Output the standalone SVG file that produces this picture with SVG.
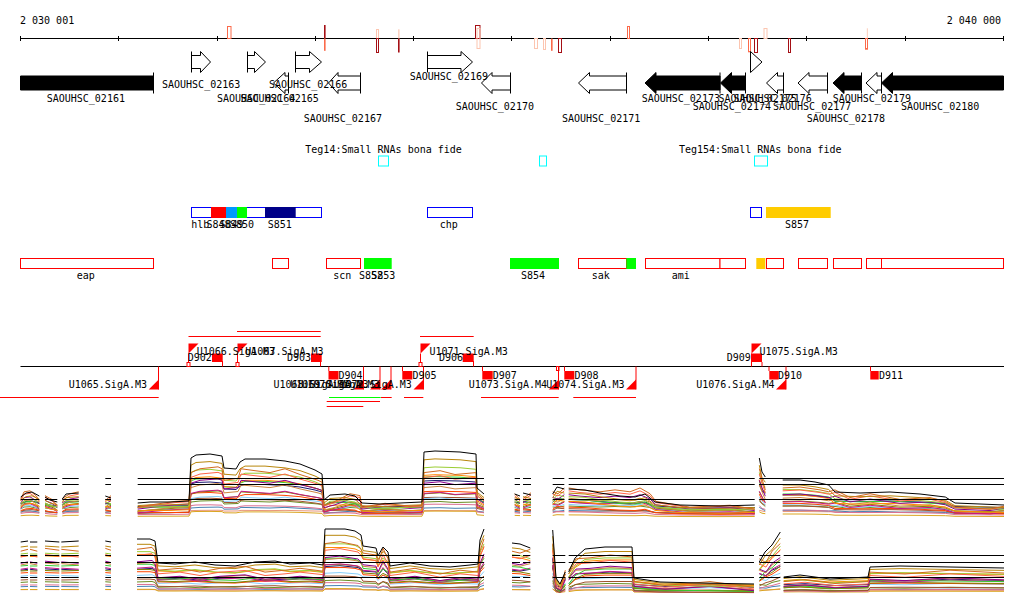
<svg xmlns="http://www.w3.org/2000/svg" width="1024" height="611" viewBox="0 0 1024 611">
<style>
text{font-family:"DejaVu Sans Mono","Liberation Mono",monospace;font-size:10px;fill:#000}
.ax{stroke:#000;stroke-width:1;fill:none}
.go{fill:#fff;stroke:#000;stroke-width:1}
.gf{fill:#000;stroke:#000;stroke-width:1}
.ro{fill:#fff;stroke:#f00;stroke-width:1}
.bo{fill:#fff;stroke:#00f;stroke-width:1}
.cy{fill:none;stroke:#0ff;stroke-width:1}
.rl{stroke:#f00;stroke-width:1;fill:none}
.gl{stroke:#0f0;stroke-width:1;fill:none}
.rf{fill:#f00;stroke:none}
.dk{fill:none;stroke:#a50f15;stroke-width:1}
.tm{fill:none;stroke:#fb6a4a;stroke-width:1}
.lp{fill:none;stroke:#fcc5b0;stroke-width:1}
.pr{fill:none;stroke-width:1;vector-effect:non-scaling-stroke}
.ref{stroke:#000;stroke-width:1;fill:none}
</style>
<defs>
<path id="pt" class="pr" d="M20.7,497 L26,493 L32,492 L39.3,496 M45,497 L50,500 L57.3,502 M62.3,499 L66,494 L78.7,493 M105.3,496 L111,498 M137.7,503 L150,502 L170,502 L189,501 L191,458 L196,455 L210,454 L222,456 L224,468 L236,469 L240,462 L245,459 L265,459 L285,461 L300,464 L315,470 L322,474 L324,500 L330,495 L345,494 L355,496 L362,503 L380,504 L400,503 L422,502 L424,452 L435,451 L460,452 L476,454 L477,488 L484,494 M514.7,494 L520,496 M523,493 L531,495 M552.7,494 L557,487 L564.3,489 M568.7,489 L585,490 L600,493 L620,496 L635,497 L645,494 L655,502 L680,505 L720,506 L754.7,505 M759.3,458 L762,472 L765.3,477 M782.7,480 L800,480 L815,482 L828.7,485 L835,492 L860,493 L890,492 L920,494 L945.3,497 L955,503 L980,504 L1004,505"/>
<path id="pt2" class="pr" d="M20.7,498 L24,490 L30,489 L36,494 L39.3,499 M45,494 L52,498 L57.3,504 M62.3,497 L70,492 L78.7,490 M105.3,499 L111,494 M137.7,506 L155,503 L175,500 L189,499 L191,470 L200,466 L218,464 L222,466 L224,478 L238,476 L241,466 L255,468 L270,470 L285,466 L300,472 L318,478 L322,480 L324,504 L335,500 L350,492 L360,494 L362,506 L385,502 L410,505 L422,504 L424,470 L440,468 L455,472 L476,470 L477,492 L484,498 M514.7,492 L520,498 M523,497 L531,491 M552.7,490 L558,492 L564.3,486 M568.7,486 L580,488 L600,490 L615,488 L630,490 L640,486 L650,492 L656,500 L690,506 L730,504 L754.7,508 M759.3,466 L763,480 L765.3,488 M782.7,486 L800,485 L820,488 L828.7,490 L835,488 L850,496 L870,492 L900,498 L930,496 L945.3,500 L955,506 L990,508 L1004,505"/>
<path id="pb" class="pr" d="M20.7,542 L28,541 M30,542 L37.3,542 M45,541 L59.3,542 M61.3,542 L78.7,541 M105.3,541 L111,542 M137,539 L150,539 L155,541 L158,563 L175,564 L195,562 L215,565 L235,566 L255,562 L275,561 L290,564 L310,563 L323,565 L325,529 L345,529 L355,531 L361,535 L363,546 L376,548 L378,556 L383,547 L388,552 L390,566 L410,563 L430,566 L450,567 L470,565 L478,564 L480,540 L484,529 M512,543 L520,544 L530.3,548 M552.7,530 L556,578 L560,584 L565.3,572 M568.7,572 L575,558 L585,549 L605,547 L632,547 L634,578 L660,582 L700,583 L754,584 M759.3,562 L765,552 L772,545 L780.3,532 M783.7,577 L800,575 L830,579 L868,577 L870,567 L900,566 L950,567 L1004,568"/>
<path id="pb2" class="pr" d="M20.7,548 L28,546 M30,546 L37.3,548 M45,545 L59.3,547 M61.3,546 L78.7,548 M105.3,545 L111,547 M137,546 L152,544 L155,548 L158,568 L180,566 L200,570 L220,566 L245,564 L265,570 L285,568 L300,566 L323,569 L325,540 L340,538 L358,542 L361,546 L363,550 L376,552 L378,560 L383,545 L388,556 L390,570 L415,566 L440,572 L460,568 L478,570 L480,548 L484,535 M512,548 L520,550 L530.3,546 M552.7,540 L556,582 L561,586 L565.3,568 M568.7,568 L576,556 L590,555 L610,552 L632,554 L634,580 L665,584 L710,580 L754,586 M759.3,556 L766,560 L772,548 L780.3,540 M783.7,580 L805,578 L835,582 L868,580 L870,570 L905,572 L950,568 L1004,571"/>
</defs>
<rect width="1024" height="611" fill="#fff"/>

<g id="scale">
<path class="ax" d="M20.5,38.5 H1003.5 M20.5,36 V41 M118.5,36 V41 M217.5,36 V41 M315.5,36 V41 M413.5,36 V41 M511.5,36 V41 M610.5,36 V41 M708.5,36 V41 M806.5,36 V41 M905.5,36 V41 M1003.5,36 V41"/>
<text x="20" y="24">2 030 001</text>
<text x="1001" y="24" text-anchor="end">2 040 000</text>
</g>

<g id="tss-marks">
<rect class="tm" x="227.5" y="26.5" width="3.5" height="12"/>
<rect x="324" y="25" width="1.6" height="13.5" fill="#a50f15"/>
<rect x="324" y="38.5" width="1.6" height="12.3" fill="#fb6a4a"/>
<rect class="lp" x="376.5" y="29.5" width="2" height="9"/>
<rect class="dk" x="376.5" y="38.5" width="2" height="14"/>
<rect x="398" y="29.3" width="1.6" height="9.2" fill="#fcd5c5"/>
<rect x="398" y="38.5" width="1.6" height="14" fill="#a50f15"/>
<rect class="dk" x="475.5" y="25.5" width="4.5" height="13"/>
<rect class="lp" x="477" y="28.5" width="3" height="20"/>
<rect class="lp" x="534.5" y="38.5" width="3" height="10"/>
<rect class="lp" x="543.5" y="38.5" width="2" height="11"/>
<rect x="551" y="38.5" width="1.6" height="12.3" fill="#fb6a4a"/>
<rect class="dk" x="558.5" y="38.5" width="3" height="14"/>
<rect class="tm" x="627.5" y="26.5" width="2" height="12"/>
<rect class="lp" x="739.5" y="38.5" width="2" height="10"/>
<rect class="tm" x="748.5" y="38.5" width="2" height="13.3"/>
<rect class="dk" x="754.5" y="38.5" width="3" height="14"/>
<rect class="lp" x="764" y="28.5" width="3" height="10"/>
<rect class="dk" x="788.5" y="38.5" width="2" height="14"/>
<rect x="866.8" y="28.3" width="1.2" height="10.2" fill="#fcd5c5"/>
<rect class="tm" x="865.5" y="38.5" width="2" height="10.7"/>
</g>

<g id="genes">
<path id="g02161" class="gf" d="M20.5,76 H153.5 V90 H20.5 Z M153.5,72.5 V93.5"/>
<path id="g02163" class="go" d="M191.5,55.5 H200.5 V51.5 L210.5,62 L200.5,72.5 V68.5 H191.5 Z M191.5,51.5 V72.5"/>
<path id="g02164" class="go" d="M247.5,55.5 H254.5 V51.5 L265.5,62 L254.5,72.5 V68.5 H247.5 Z M247.5,51.5 V72.5"/>
<path id="g02165" class="go" d="M288.5,76 H285 V72.5 L273.5,83 L285,93.5 V90 H288.5 Z M288.5,72.5 V93.5"/>
<path id="g02166" class="go" d="M295.5,55.5 H309.5 V51.5 L321.5,62 L309.5,72.5 V68.5 H295.5 Z M295.5,51.5 V72.5"/>
<path id="g02167" class="go" d="M360.5,76 H338 V72.5 L328.5,83 L338,93.5 V90 H360.5 Z M360.5,72.5 V93.5"/>
<path id="g02169" class="go" d="M427.5,55.5 H461 V51.5 L472.5,62 L461,72.5 V68.5 H427.5 Z M427.5,51.5 V72.5"/>
<path id="g02170" class="go" d="M510.5,76 H492 V72.5 L481.5,83 L492,93.5 V90 H510.5 Z M510.5,72.5 V93.5"/>
<path id="g02171" class="go" d="M626.5,76 H589.5 V72.5 L578.5,83 L589.5,93.5 V90 H626.5 Z M626.5,72.5 V93.5"/>
<path id="g02173" class="gf" d="M720,76 H656 V72.5 L645,83 L656,93.5 V90 H720 Z M720,72.5 V93.5"/>
<path id="g02174" class="gf" d="M745.5,76 H731.5 V72.5 L720.5,83 L731.5,93.5 V90 H745.5 Z M745.5,72.5 V93.5"/>
<path id="g02175" class="go" d="M750.5,51.5 L762,62 L750.5,72.5 Z"/>
<path id="g02176" class="go" d="M783.5,76 H777.5 V72.5 L766.5,83 L777.5,93.5 V90 H783.5 Z M783.5,72.5 V93.5"/>
<path id="g02177" class="go" d="M827.5,76 H809 V72.5 L798,83 L809,93.5 V90 H827.5 Z M827.5,72.5 V93.5"/>
<path id="g02178" class="gf" d="M861.5,76 H844 V72.5 L833,83 L844,93.5 V90 H861.5 Z M861.5,72.5 V93.5"/>
<path id="g02179" class="go" d="M881.5,76 H877 V72.5 L866,83 L877,93.5 V90 H881.5 Z M881.5,72.5 V93.5"/>
<path id="g02180" class="gf" d="M1003.5,76 H892.5 V72.5 L881.5,83 L892.5,93.5 V90 H1003.5 Z"/>
<text x="46.7" y="101.5">SAOUHSC_02161</text>
<text x="162" y="88.3">SAOUHSC_02163</text>
<text x="217" y="101.5">SAOUHSC_02164</text>
<text x="240.5" y="101.5">SAOUHSC_02165</text>
<text x="269" y="88.3">SAOUHSC_02166</text>
<text x="303.7" y="122.3">SAOUHSC_02167</text>
<text x="409.7" y="80">SAOUHSC_02169</text>
<text x="455.7" y="110">SAOUHSC_02170</text>
<text x="562" y="122.3">SAOUHSC_02171</text>
<text x="641.7" y="101.5">SAOUHSC_02173</text>
<text x="692.7" y="110">SAOUHSC_02174</text>
<text x="718.5" y="101.5">SAOUHSC_02175</text>
<text x="733.5" y="101.5">SAOUHSC_02176</text>
<text x="773" y="110">SAOUHSC_02177</text>
<text x="806.7" y="122.3">SAOUHSC_02178</text>
<text x="832.7" y="101.5">SAOUHSC_02179</text>
<text x="901" y="110">SAOUHSC_02180</text>
</g>

<g id="small-rnas">
<text x="305.3" y="152.5">Teg14:Small RNAs bona fide</text>
<text x="679" y="152.5">Teg154:Small RNAs bona fide</text>
<rect class="cy" x="378.5" y="156" width="10" height="10"/>
<rect class="cy" x="539.5" y="156" width="7" height="10"/>
<rect class="cy" x="754.5" y="156" width="13" height="10"/>
</g>

<g id="blue-track">
<rect class="bo" x="191.5" y="207.5" width="130" height="10"/>
<rect x="211" y="207" width="15" height="11" fill="#f00"/>
<rect x="226" y="207" width="11" height="11" fill="#0099ff"/>
<rect x="237" y="207" width="10" height="11" fill="#00ff00"/>
<rect x="265" y="207" width="30.7" height="11" fill="#000088"/>
<rect class="bo" x="427.5" y="207.5" width="45" height="10"/>
<rect class="bo" x="750.5" y="207.5" width="11" height="10"/>
<rect x="766" y="207" width="64.7" height="11" fill="#ffcc00"/>
<text x="191.3" y="228">hlb</text>
<text x="206.5" y="228">S848</text>
<text x="219.5" y="228">S849</text>
<text x="230" y="228">S850</text>
<text x="267.7" y="228">S851</text>
<text x="439.7" y="228">chp</text>
<text x="785" y="228">S857</text>
</g>

<g id="red-track">
<rect class="ro" x="20.5" y="258.5" width="133" height="10"/>
<rect class="ro" x="272.5" y="258.5" width="16" height="10"/>
<rect class="ro" x="326.5" y="258.5" width="34" height="10"/>
<rect x="364" y="258" width="27.7" height="11" fill="#00ff00"/>
<rect x="510" y="258" width="49" height="11" fill="#00ff00"/>
<rect class="ro" x="578.5" y="258.5" width="48" height="10"/>
<rect x="626.3" y="258" width="9.7" height="11" fill="#00ff00"/>
<rect class="ro" x="645.5" y="258.5" width="74.5" height="10"/>
<rect class="ro" x="720" y="258.5" width="25.5" height="10"/>
<rect x="756.3" y="258" width="9" height="11" fill="#ffcc00"/>
<rect class="ro" x="766.5" y="258.5" width="17" height="10"/>
<rect class="ro" x="798.5" y="258.5" width="29" height="10"/>
<rect class="ro" x="833.5" y="258.5" width="28" height="10"/>
<rect class="ro" x="866.5" y="258.5" width="15" height="10"/>
<rect class="ro" x="881.5" y="258.5" width="122" height="10"/>
<text x="76.7" y="279">eap</text>
<text x="333.3" y="279">scn</text>
<text x="359" y="279">S852</text>
<text x="371.3" y="279">S853</text>
<text x="521" y="279">S854</text>
<text x="591.7" y="279">sak</text>
<text x="671.7" y="279">ami</text>
</g>

<g id="promoters">
<path class="ax" d="M20.5,366.5 H1004"/>
<path class="rl" d="M188.5,336.5 H320.7 M237,331.5 H320.7 M420,336.5 H473.7 M0,397.5 H158.7 M381,397.5 H391.7 M404,397.5 H423.3 M481,397.5 H558.7 M573.3,397.5 H636 M326.7,401.5 H380 M326.7,406.5 H363.3"/>
<path class="gl" d="M329,397.5 H380.7"/>
<path class="rl" d="M188.5,353.5 V362.5 M237.5,353.5 V362.5 M420.5,353.5 V362.5 M751.5,353.5 V366.5 M762,362 V366.5 M222.5,361 V366.5 M320.5,361 V366.5 M473.5,361 V366.5 M158.5,366.5 V389.5 M363.5,366.5 V389.5 M380,366.5 V389.5 M391,366.5 V389.5 M423.5,366.5 V389.5 M558.5,366.5 V389.5 M636,366.5 V389.5 M786,366.5 V389.5 M328.8,366.5 V371 M402.5,366.5 V371 M482.5,366.5 V371 M564.5,366.5 V371 M769,366.5 V371 M870.5,366.5 V371"/>
<rect class="rl" x="187" y="362.5" width="3" height="4"/>
<rect class="rl" x="236" y="362.5" width="3" height="4"/>
<rect class="rl" x="419" y="362.5" width="3" height="4"/>
<rect class="rl" x="556.5" y="366.5" width="2.5" height="4"/>
<g class="rf">
<polygon points="188.5,343.5 198.5,343.5 188.5,353.5"/>
<polygon points="237.5,343.5 247.5,343.5 237.5,353.5"/>
<polygon points="420.5,343.5 430.5,343.5 420.5,353.5"/>
<polygon points="751.5,343.5 761.5,343.5 751.5,353.5"/>
<polygon points="158.7,389.5 148.7,389.5 158.7,379.5"/>
<polygon points="363.5,389.5 353.5,389.5 363.5,379.5"/>
<polygon points="380,389.5 370,389.5 380,379.5"/>
<polygon points="391,389.5 381,389.5 391,379.5"/>
<polygon points="423.5,389.5 413.5,389.5 423.5,379.5"/>
<polygon points="558.7,389.5 548.7,389.5 558.7,379.5"/>
<polygon points="636,389.5 626,389.5 636,379.5"/>
<polygon points="786,389.5 776,389.5 786,379.5"/>
<rect x="212" y="353.5" width="10.7" height="8.5"/>
<rect x="311" y="353.5" width="10.7" height="8.5"/>
<rect x="462.7" y="353.5" width="11" height="8.5"/>
<rect x="751.3" y="353.5" width="10.7" height="8.5"/>
<rect x="328.5" y="371" width="10" height="8.5"/>
<rect x="402.3" y="371" width="10" height="8.5"/>
<rect x="482.3" y="371" width="10.4" height="8.5"/>
<rect x="564.3" y="371" width="10" height="8.5"/>
<rect x="769.3" y="371" width="9.4" height="8.5"/>
<rect x="870.3" y="371" width="8.4" height="8.5"/>
</g>
<text x="196.7" y="354.5">U1066.SigA.M3</text>
<text x="245.3" y="354.5">U1067.SigA.M3</text>
<text x="429.5" y="354.5">U1071.SigA.M3</text>
<text x="759.5" y="354.5">U1075.SigA.M3</text>
<text x="147" y="388" text-anchor="end">U1065.SigA.M3</text>
<text x="351.8" y="388" text-anchor="end">U1068.SigA.M3</text>
<text x="368.5" y="388" text-anchor="end">U1069.SigA.M3</text>
<text x="379.5" y="388" text-anchor="end">U1070.SigA.M3</text>
<text x="411.8" y="388" text-anchor="end">U1072.SigA.M3</text>
<text x="547" y="388" text-anchor="end">U1073.SigA.M4</text>
<text x="624.5" y="388" text-anchor="end">U1074.SigA.M3</text>
<text x="774.5" y="388" text-anchor="end">U1076.SigA.M4</text>
<text x="187.7" y="361">D902</text>
<text x="287" y="361">D903</text>
<text x="439" y="361">D906</text>
<text x="726.7" y="361">D909</text>
<text x="338.5" y="379">D904</text>
<text x="412.5" y="379">D905</text>
<text x="492.7" y="379">D907</text>
<text x="574.5" y="379">D908</text>
<text x="778" y="379">D910</text>
<text x="879" y="379">D911</text>
</g>

<g id="expression-top">
<use href="#pt2" transform="matrix(1 0 0 0.06 0 482.4)" stroke="#e9967a"/>
<use href="#pt" transform="matrix(1 0 0 0.1 0 466)" stroke="#daa520"/>
<use href="#pt2" transform="matrix(1 0 0 0.15 0 437.5)" stroke="#4682b4"/>
<use href="#pt" transform="matrix(1 0 0 0.2 0 414)" stroke="#db7093"/>
<use href="#pt2" transform="matrix(1 0 0 0.25 0 384.5)" stroke="#6b8e23"/>
<use href="#pt" transform="matrix(1 0 0 0.3 0 362)" stroke="#a0522d"/>
<use href="#pt2" transform="matrix(1 0 0 0.36 0 329.4)" stroke="#87cefa"/>
<use href="#pt" transform="matrix(1 0 0 0.42 0 301.8)" stroke="#ff4500"/>
<use href="#pt2" transform="matrix(1 0 0 0.48 0 268.2)" stroke="#808000"/>
<use href="#pt" transform="matrix(1 0 0 0.5 0 255)" stroke="#191970"/>
<use href="#pt2" transform="matrix(1 0 0 0.54 0 239.6)" stroke="#c71585"/>
<use href="#pt" transform="matrix(1 0 0 0.6 0 206)" stroke="#32cd32"/>
<use href="#pt2" transform="matrix(1 0 0 0.66 0 177.4)" stroke="#cd853f"/>
<use href="#pt" transform="matrix(1 0 0 0.7 0 159)" stroke="#ff8c00"/>
<use href="#pt2" transform="matrix(1 0 0 0.72 0 144.8)" stroke="#8b008b"/>
<use href="#pt" transform="matrix(1 0 0 0.78 0 115.2)" stroke="#9acd32"/>
<use href="#pt2" transform="matrix(1 0 0 0.84 0 82.6)" stroke="#ff6347"/>
<use href="#pt" transform="matrix(1 0 0 0.9 0 53)" stroke="#b8860b"/>
<use href="#pt2" transform="matrix(1 0 0 0.96 0 21.4)" stroke="#d2691e"/>
<use href="#pt" stroke="#000"/>
<path class="ref" d="M20.7,478.5 H39.3 M20.7,484.5 H39.3 M20.7,499.5 H39.3 M45,478.5 H57.3 M45,484.5 H57.3 M45,499.5 H57.3 M62.3,478.5 H78.7 M62.3,484.5 H78.7 M62.3,499.5 H78.7 M105.3,478.5 H111 M105.3,484.5 H111 M105.3,499.5 H111 M137.7,478.5 H484 M137.7,484.5 H484 M137.7,499.5 H484 M514.7,478.5 H520 M514.7,484.5 H520 M514.7,499.5 H520 M523,478.5 H531 M523,484.5 H531 M523,499.5 H531 M552.7,478.5 H564.3 M552.7,484.5 H564.3 M552.7,499.5 H564.3 M568.7,478.5 H754.7 M568.7,484.5 H754.7 M568.7,499.5 H754.7 M759.3,478.5 H1004 M759.3,484.5 H1004 M759.3,499.5 H1004"/>
</g>

<g id="expression-bottom">
<use href="#pb2" transform="matrix(1 0 0 0.03 0 573.24)" stroke="#e9967a"/>
<use href="#pb" transform="matrix(1 0 0 0.07 0 551.56)" stroke="#daa520"/>
<use href="#pb2" transform="matrix(1 0 0 0.12 0 520.96)" stroke="#4682b4"/>
<use href="#pb" transform="matrix(1 0 0 0.18 0 487.44)" stroke="#db7093"/>
<use href="#pb2" transform="matrix(1 0 0 0.24 0 450.92)" stroke="#6b8e23"/>
<use href="#pb" transform="matrix(1 0 0 0.3 0 417.4)" stroke="#a0522d"/>
<use href="#pb2" transform="matrix(1 0 0 0.36 0 378.88)" stroke="#87cefa"/>
<use href="#pb" transform="matrix(1 0 0 0.42 0 345.36)" stroke="#ff4500"/>
<use href="#pb2" transform="matrix(1 0 0 0.45 0 323.6)" stroke="#191970"/>
<use href="#pb" transform="matrix(1 0 0 0.48 0 310.84)" stroke="#808000"/>
<use href="#pb2" transform="matrix(1 0 0 0.54 0 273.32)" stroke="#c71585"/>
<use href="#pb" transform="matrix(1 0 0 0.6 0 240.8)" stroke="#32cd32"/>
<use href="#pb2" transform="matrix(1 0 0 0.66 0 203.28)" stroke="#cd853f"/>
<use href="#pb" transform="matrix(1 0 0 0.69 0 182.52)" stroke="#ff8c00"/>
<use href="#pb2" transform="matrix(1 0 0 0.72 0 168.76)" stroke="#8b008b"/>
<use href="#pb" transform="matrix(1 0 0 0.78 0 131.24)" stroke="#9acd32"/>
<use href="#pb2" transform="matrix(1 0 0 0.84 0 96.72)" stroke="#ff6347"/>
<use href="#pb" transform="matrix(1 0 0 0.9 0 59.2)" stroke="#b8860b"/>
<use href="#pb2" transform="matrix(1 0 0 0.95 0 30.6)" stroke="#d2691e"/>
<use href="#pb" stroke="#000"/>
<path class="ref" d="M20.7,555.5 H28 M20.7,562.5 H28 M20.7,577.5 H28 M30,555.5 H37.3 M30,562.5 H37.3 M30,577.5 H37.3 M45,555.5 H59.3 M45,562.5 H59.3 M45,577.5 H59.3 M61.3,555.5 H78.7 M61.3,562.5 H78.7 M61.3,577.5 H78.7 M105.3,555.5 H111 M105.3,562.5 H111 M105.3,577.5 H111 M137,555.5 H484 M137,562.5 H484 M137,577.5 H484 M512,555.5 H520 M512,562.5 H520 M512,577.5 H520 M523,555.5 H530.3 M523,562.5 H530.3 M523,577.5 H530.3 M552.7,555.5 H565.3 M552.7,562.5 H565.3 M552.7,577.5 H565.3 M568.7,555.5 H754 M568.7,562.5 H754 M568.7,577.5 H754 M759.3,555.5 H780.3 M759.3,562.5 H780.3 M759.3,577.5 H780.3 M783.7,555.5 H1004 M783.7,562.5 H1004 M783.7,577.5 H1004"/>
</g>
</svg>
